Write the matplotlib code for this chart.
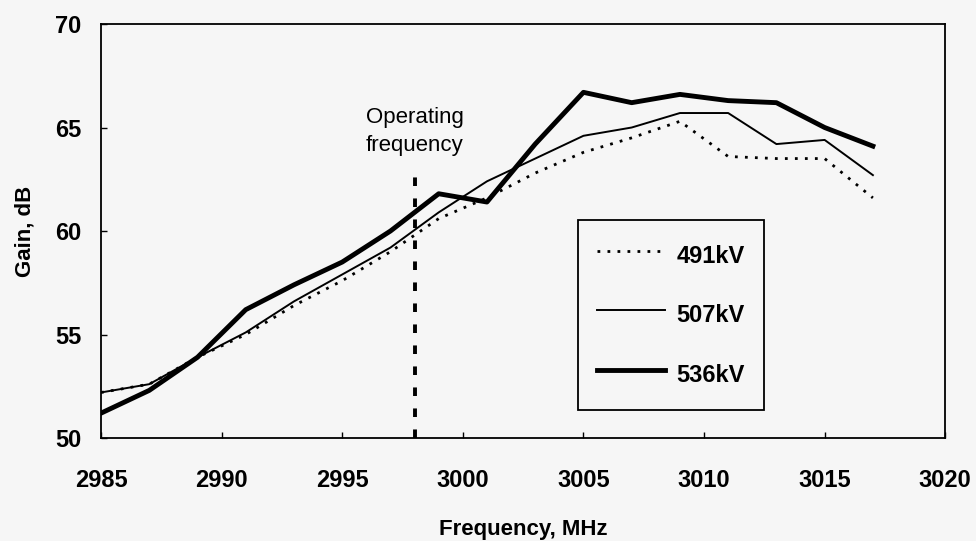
import matplotlib.pyplot as plt
import numpy as np

# Gain vs frequency for three beam voltages
freq = [2985, 2987, 2989, 2991, 2993, 2995, 2997, 2999, 3001, 3003,
        3005, 3007, 3009, 3011, 3013, 3015, 3017]
gain_491 = [52.2, 52.6, 53.9, 55.0, 56.4, 57.6, 59.0, 60.6, 61.6, 62.8,
            63.8, 64.5, 65.3, 63.6, 63.5, 63.5, 61.6]
gain_507 = [52.2, 52.6, 53.9, 55.1, 56.6, 57.9, 59.2, 60.9, 62.4, 63.5,
            64.6, 65.0, 65.7, 65.7, 64.2, 64.4, 62.7]
gain_536 = [51.2, 52.3, 53.9, 56.2, 57.4, 58.5, 60.0, 61.8, 61.4, 64.2,
            66.7, 66.2, 66.6, 66.3, 66.2, 65.0, 64.1]
op_freq = 2998

bg = '#f6f6f6'
plt.rcParams['font.family'] = ['Liberation Sans', 'DejaVu Sans']

fig = plt.figure(figsize=(9.76, 5.41), dpi=100, facecolor=bg)
ax = fig.add_axes([0.1035, 0.1904, 0.865, 0.7652], facecolor=bg)

ax.plot(freq, gain_491, color='black', lw=2.0, linestyle=(0, (1, 2.6)),
        dash_capstyle='butt', label='491kV')
ax.plot(freq, gain_507, color='black', lw=1.4, label='507kV')
ax.plot(freq, gain_536, color='black', lw=3.5, label='536kV')

# operating frequency marker
ax.plot([op_freq, op_freq], [50, 62.9], color='black', lw=2.8,
        linestyle=(0, (2.2, 3.2)))
ax.text(op_freq, 64.8, 'Operating\nfrequency', ha='center', va='center',
        fontsize=16, linespacing=1.4)

ax.set_xlim(2985, 3020)
ax.set_ylim(50, 70)
ax.set_xticks(np.arange(2985, 3021, 5))
ax.set_yticks(np.arange(50, 71, 5))
ax.tick_params(direction='in', length=4, width=1, labelsize=17)
ax.tick_params(axis='x', pad=22)
ax.tick_params(axis='y', pad=14)
for lab in ax.get_xticklabels() + ax.get_yticklabels():
    lab.set_fontweight('bold')
for s in ax.spines.values():
    s.set_linewidth(1.3)

ax.set_xlabel('Frequency, MHz', fontsize=16, fontweight='bold', labelpad=20)
ax.set_ylabel('Gain, dB', fontsize=16, fontweight='bold', labelpad=14)

leg = ax.legend(loc='upper left', bbox_to_anchor=(0.565, 0.527), fontsize=17,
                frameon=True, fancybox=False, edgecolor='black',
                facecolor=bg, framealpha=1, handlelength=2.9,
                handleheight=1.8, labelspacing=1.1, borderpad=0.8,
                handletextpad=0.47, borderaxespad=0)
leg.get_frame().set_linewidth(1.3)
for t in leg.get_texts():
    t.set_fontweight('bold')

fig.savefig('out.png', dpi=100, facecolor=bg)
